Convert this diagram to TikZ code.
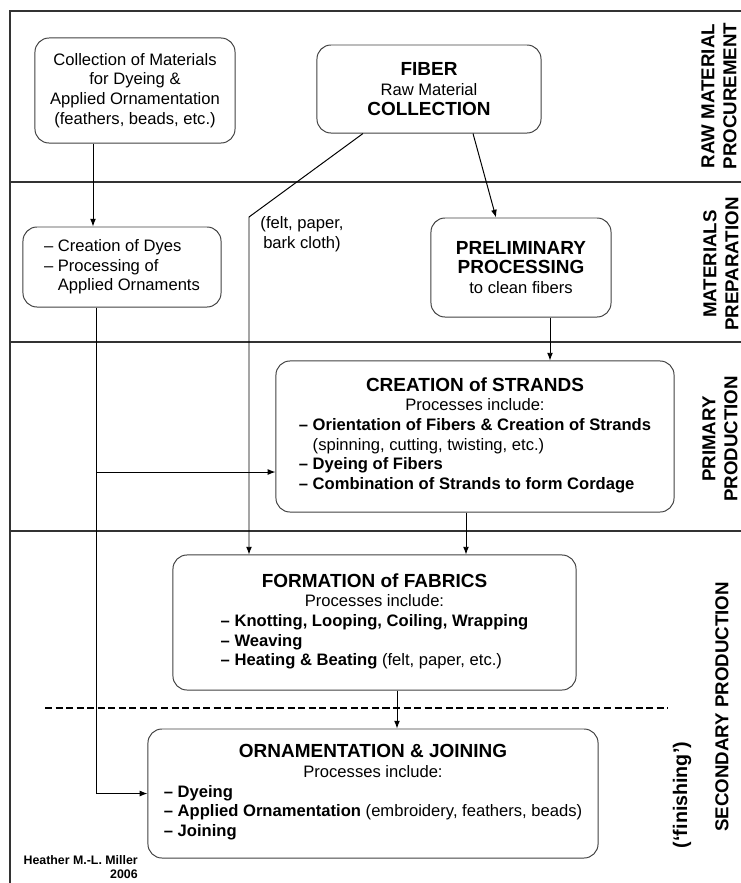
\documentclass[tikz,border=0pt]{standalone}
\usepackage{fontspec}
\setmainfont{Liberation Sans}
\usepackage{tikz}
\usetikzlibrary{arrows.meta}
\newcommand{\bodytext}{\fontsize{11.8}{14}\selectfont}
\newcommand{\headtext}{\fontsize{13.5}{15}\selectfont\bfseries}
\tikzset{
    box/.style={
        draw = black!75, line width = 0.7pt,
        rounded corners = 10pt,
        inner sep = 0pt,
        align = center,
        font = \bodytext
    },
    stage/.style = {
        rotate = 90, align = center, inner sep = 0pt,
        font = \fontsize{13.3}{15.6}\selectfont\bfseries
    },
    frame/.style = {line width = 1pt, black!80},
    line/.style = {-{Latex[length=5.5pt, width=4.2pt]}, line width = 0.7pt}
}

\begin{document}
\begin{tikzpicture}[x=0.025cm, y=-0.025cm]
\useasboundingbox (0,0) rectangle (741,883);

% Frame and bands
\draw[frame] (741,11) -- (10,11) -- (10,883);
\foreach \y in {182, 342, 531}
    \draw[frame] (10,\y) -- (741,\y);
\draw[dash pattern=on 5pt off 2.5pt, line width=0.8pt] (45,708) -- (668,708);

% Raw material procurement
\node[box, minimum width=5cm, minimum height=2.625cm] (coll) at (135,90.5)
    {Collection of Materials\\for Dyeing \&\\Applied Ornamentation\\(feathers, beads, etc.)};
\node[box, minimum width=5.6cm, minimum height=2.2cm] (fiber) at (429,89)
    {{\headtext FIBER}\\Raw Material\\{\headtext COLLECTION}};

% Materials preparation
\node[box, align=left, minimum width=4.95cm, minimum height=2cm] (dyes) at (122,267)
    {\textendash{} Creation of Dyes\\\textendash{} Processing of\\\phantom{\textendash{} }Applied Ornaments};
\node[box, minimum width=4.5cm, minimum height=2.475cm] (prelim) at (521,267.5)
    {{\headtext PRELIMINARY}\\{\headtext PROCESSING}\\to clean fibers};
\node[font=\bodytext, align=center] (feltnote) at (302,234) {(felt, paper,\\bark cloth)};

% Primary production
\node[box, minimum width=9.95cm, minimum height=3.775cm] (strands) at (475,436.5)
    {{\headtext CREATION of STRANDS}\\
     Processes include:\\
     \begin{tabular}[t]{@{}l@{}}
     \bfseries \textendash{} Orientation of Fibers \& Creation of Strands\\
     \phantom{\bfseries \textendash{} }(spinning, cutting, twisting, etc.)\\
     \bfseries \textendash{} Dyeing of Fibers\\
     \bfseries \textendash{} Combination of Strands to form Cordage
     \end{tabular}};

% Secondary production
\node[box, minimum width=10.075cm, minimum height=3.375cm] (fabrics) at (374.5,622.5)
    {{\headtext FORMATION of FABRICS}\\
     Processes include:\\
     \begin{tabular}[t]{@{}l@{}}
     \bfseries \textendash{} Knotting, Looping, Coiling, Wrapping\\
     \bfseries \textendash{} Weaving\\
     \bfseries \textendash{} Heating \& Beating \mdseries (felt, paper, etc.)
     \end{tabular}};
\node[box, minimum width=11.25cm, minimum height=3.225cm] (orn) at (373,793.5)
    {{\headtext ORNAMENTATION \& JOINING}\\
     Processes include:\\
     \begin{tabular}[t]{@{}l@{}}
     \bfseries \textendash{} Dyeing\\
     \bfseries \textendash{} Applied Ornamentation \mdseries (embroidery, feathers, beads)\\
     \bfseries \textendash{} Joining
     \end{tabular}};

% Stage labels
\node[stage] (procure) at (719,96) {RAW MATERIAL\\PROCUREMENT};
\node[stage] (prepare) at (721,264) {MATERIALS\\PREPARATION};
\node[stage] (primary) at (720,439) {PRIMARY\\PRODUCTION};
\node[stage] (secondary) at (722,707) {SECONDARY PRODUCTION};
\node[stage, font=\fontsize{14}{16}\selectfont\bfseries] (finish) at (682,795) {(`finishing')};

\node[font=\fontsize{8.8}{10}\selectfont\bfseries, align=right, anchor=north east, inner sep=0pt]
    (author) at (138,855) {Heather M.-L. Miller\\2006};

% Lines
\coordinate (bend) at (249,217);
\coordinate (tap) at (96,472);
\draw[line] (coll.south -| 93,0) -- (dyes.north -| 93,0);
\draw[line] (dyes.south -| 96,0) |- (orn.west);
\draw[line] (tap) -- (tap -| strands.west);
\draw[line] (fiber.south -| 473,0) -- (prelim.north -| 496,0);
\draw[line] (fiber.south -| 363,0) -- (bend) -- (bend |- fabrics.north);
\draw[line] (prelim.south -| 550,0) -- (strands.north -| 550,0);
\draw[line] (strands.south -| 466,0) -- (fabrics.north -| 466,0);
\draw[line] (fabrics.south -| 397,0) -- (orn.north -| 397,0);

\end{tikzpicture}
\end{document}
